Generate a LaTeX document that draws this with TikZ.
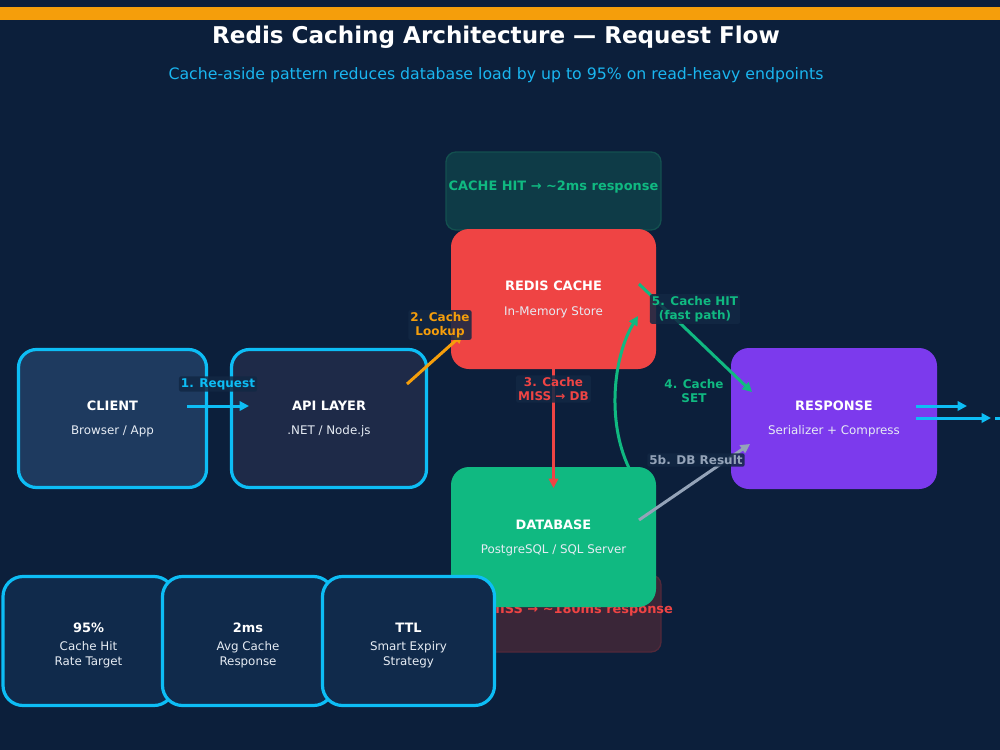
\documentclass[tikz,border=0pt]{standalone}
\usepackage{fontspec}
\setmainfont{DejaVu Sans}
\usetikzlibrary{arrows.meta,calc}
\definecolor{bgc}{HTML}{0C1F3B}
\definecolor{barc}{HTML}{F59E0B}
\definecolor{cyanc}{HTML}{0DBDF5}
\definecolor{subtc}{HTML}{1AB6F0}
\definecolor{redc}{HTML}{EF4444}
\definecolor{greenc}{HTML}{10B981}
\definecolor{purplec}{HTML}{7C3AED}
\definecolor{grayc}{HTML}{94A3B8}
\definecolor{clientc}{HTML}{1E3A5F}
\definecolor{apic}{HTML}{1E2A48}
\definecolor{statc}{HTML}{102A4B}
\definecolor{hitfill}{HTML}{0E3B47}
\definecolor{hitdraw}{HTML}{13504F}
\definecolor{missfill}{HTML}{3A2638}
\definecolor{missdraw}{HTML}{52293A}
\definecolor{lblbg}{HTML}{122844}
\definecolor{subw}{HTML}{E6ECF4}
\begin{document}
\begin{tikzpicture}[x=0.75pt,y=-0.75pt,
  sz/.style 2 args={minimum width=#1*0.75pt, minimum height=#2*0.75pt},
  base/.style={rectangle, inner sep=0pt, rounded corners=13.5pt},
  outl/.style={draw=cyanc, line width=2.4pt},
  ttl/.style={text=white, font=\bfseries\fontsize{9.7}{11}\selectfont},
  subt/.style={text=subw, font=\fontsize{8.9}{11.25}\selectfont, align=center},
  lbl/.style={fill=lblbg, fill opacity=0.85, text opacity=1, inner sep=1.5pt, rounded corners=1.5pt, font=\bfseries\fontsize{9}{10.5}\selectfont, align=center},
  conn/.style={line width=2.25pt, -{Triangle[length=7pt,width=7pt]}},
  banner/.style={font=\bfseries\fontsize{9.7}{11}\selectfont}
]
\useasboundingbox (0,0) rectangle (1000,750);
\fill[bgc] (0,0) rectangle (1000,750);
\fill[barc] (0,7) rectangle (1000,20);

\node[text=white, font=\bfseries\fontsize{17.3}{20}\selectfont] (title) at (496,37) {Redis Caching Architecture — Request Flow};
\node[text=subtc, font=\fontsize{11.8}{14}\selectfont] (subtitle) at (496,75) {Cache-aside pattern reduces database load by up to 95\% on read-heavy endpoints};

% banners
\node[base, sz={215}{78}, fill=hitfill, draw=hitdraw, line width=1pt, rounded corners=7.5pt] (hit) at (553.5,191) {};
\node[banner, text=greenc] (hittxt) at (553.5,187) {CACHE HIT → \textasciitilde 2ms response};
\node[base, sz={215}{77}, fill=missfill, draw=missdraw, line width=1pt, rounded corners=7.5pt] (miss) at (553.5,613.5) {};
\node[banner, text=redc] (misstxt) at (553.5,610) {CACHE MISS → \textasciitilde 180ms response};

% main boxes
\node[base, sz={205}{140}, fill=redc] (redis) at (553.5,299) {};
\node[ttl] at ($(redis)+(0,-13)$) {REDIS CACHE};
\node[subt] at ($(redis)+(0,13)$) {In-Memory Store};

\node[base, sz={205}{140}, fill=greenc] (db) at (553.5,537) {};
\node[ttl] at ($(db)+(0,-12)$) {DATABASE};
\node[subt] at ($(db)+(0,13)$) {PostgreSQL / SQL Server};

\node[base, outl, sz={188}{138}, fill=clientc] (client) at (112.5,418.5) {};
\node[ttl] at ($(client)+(0,-12.5)$) {CLIENT};
\node[subt] at ($(client)+(0,12.5)$) {Browser / App};

\node[base, outl, sz={195}{138}, fill=apic] (api) at (329,418.5) {};
\node[ttl] at ($(api)+(0,-12.5)$) {API LAYER};
\node[subt] at ($(api)+(0,12.5)$) {.NET / Node.js};

\node[base, sz={206}{141}, fill=purplec] (resp) at (834,418.5) {};
\node[ttl] at ($(resp)+(0,-12.5)$) {RESPONSE};
\node[subt] at ($(resp)+(0,12.5)$) {Serializer + Compress};

% connector end points
\coordinate (c1a) at (187,406);  \coordinate (c1b) at (249,406);
\coordinate (c2a) at (407,384);  \coordinate (c2b) at (463,334);
\coordinate (c3a) at (553.5,369); \coordinate (c3b) at (553.5,488);
\coordinate (c4a) at (629,468);  \coordinate (c4b) at (638,316);
\coordinate (c5a) at (639,284);  \coordinate (c5b) at (752,392);
\coordinate (c6a) at (639,520);  \coordinate (c6b) at (750,444);
\coordinate (o1a) at (916,406);  \coordinate (o1b) at (967,406);
\coordinate (o2a) at (916,418);  \coordinate (o2b) at (991,418);
\coordinate (o3a) at (995,418);  \coordinate (o3b) at (1001,418);

\draw[conn, cyanc] (c1a) -- (c1b);
\draw[conn, barc] (c2a) -- (c2b);
\draw[conn, redc] (c3a) -- (c3b);
\draw[conn, greenc] (c4a) .. controls (606,420) and (614,355) .. (c4b);
\draw[conn, greenc] (c5a) -- (c5b);
\draw[conn, grayc] (c6a) -- (c6b);
\draw[conn, cyanc] (o1a) -- (o1b);
\draw[conn, cyanc] (o2a) -- (o2b);
\draw[line width=2.25pt, cyanc] (o3a) -- (o3b);

% labels
\node[lbl, text=cyanc] (l1) at (218,384) {1. Request};
\node[lbl, text=barc] (l2) at (440,325) {2. Cache\\Lookup};
\node[lbl, text=redc] (l3) at (553.5,389) {3. Cache\\MISS → DB};
\node[lbl, text=greenc, fill=none] (l4) at (694,391) {4. Cache\\SET};
\node[lbl, text=greenc] (l5) at (695,309) {5. Cache HIT\\(fast path)};
\node[lbl, text=grayc] (l6) at (696,460) {5b. DB Result};

% stat boxes
\node[base, outl, sz={171}{129}, fill=statc, rounded corners=15pt] (s1) at (88.5,641) {};
\node[ttl] at ($(s1)+(0,-13)$) {95\%};
\node[subt, anchor=north] at ($(s1)+(0,-4)$) {Cache Hit\\Rate Target};

\node[base, outl, sz={171}{129}, fill=statc, rounded corners=15pt] (s2) at (248,641) {};
\node[ttl] at ($(s2)+(0,-13)$) {2ms};
\node[subt, anchor=north] at ($(s2)+(0,-4)$) {Avg Cache\\Response};

\node[base, outl, sz={172}{129}, fill=statc, rounded corners=15pt] (s3) at (408.5,641) {};
\node[ttl] at ($(s3)+(0,-13)$) {TTL};
\node[subt, anchor=north] at ($(s3)+(0,-4)$) {Smart Expiry\\Strategy};
\end{tikzpicture}
\end{document}
